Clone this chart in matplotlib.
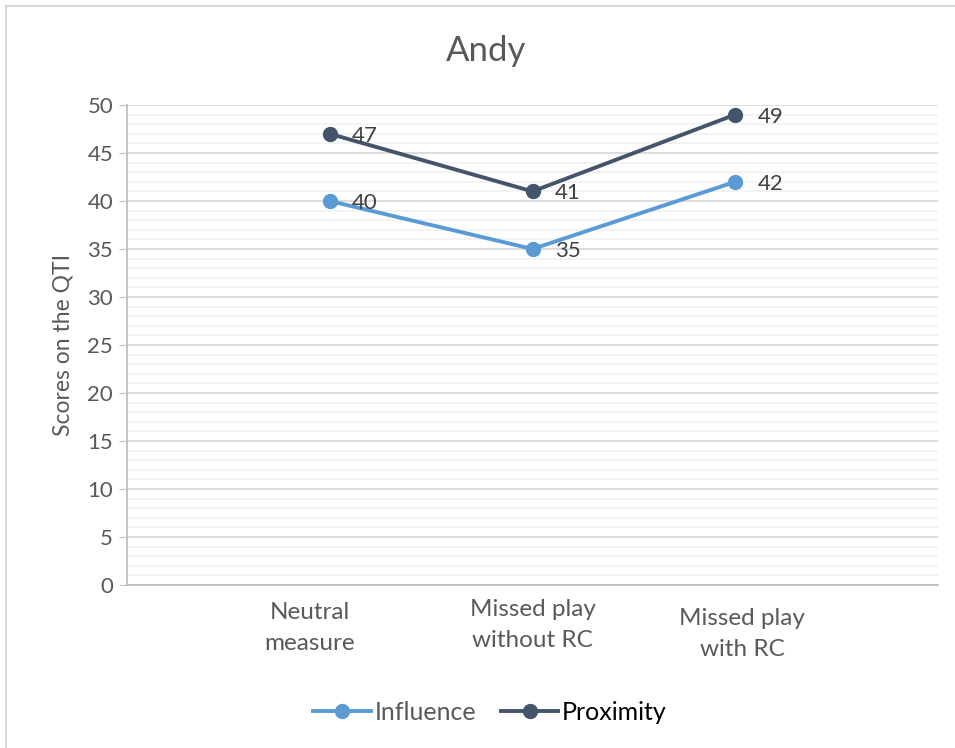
import matplotlib
matplotlib.use("Agg")
from matplotlib import pyplot as plt
from matplotlib.patches import Rectangle
import matplotlib.transforms as mtransforms
import numpy as np

plt.rcParams['font.family'] = ['Lato', 'DejaVu Sans']

categories = ['Neutral\nmeasure', 'Missed play\nwithout RC', 'Missed play\nwith RC']
influence = [40, 35, 42]
proximity = [47, 41, 49]

blue = '#5B9BD5'
navy = '#44546A'
grey_txt = '#595959'

fig = plt.figure(figsize=(9.55, 7.48), dpi=100)
ax = fig.add_axes([127 / 955, 1 - 585 / 748, (938 - 127) / 955, (585 - 105) / 748])

# outer chart border (only top and left visible in the crop)
fig.patches.append(Rectangle((6 / 955, -0.1), 1.2, 1 - 6 / 748 + 0.1,
                             transform=fig.transFigure, fill=False,
                             edgecolor='#D9D9D9', linewidth=1.5))

x = np.arange(1, len(categories) + 1)
ax.plot(x, influence, color=blue, linewidth=2.8, marker='o', markersize=10,
        label='Influence', zorder=3)
ax.plot(x, proximity, color=navy, linewidth=2.8, marker='o', markersize=10,
        label='Proximity', zorder=3)

for xi, v in zip(x, influence):
    ax.annotate(str(v), (xi, v), xytext=(16, 0), textcoords='offset points',
                va='center_baseline', ha='left', fontsize=16, color='#404040')
for xi, v in zip(x, proximity):
    ax.annotate(str(v), (xi, v), xytext=(16, 0), textcoords='offset points',
                va='center_baseline', ha='left', fontsize=16, color='#404040')

ax.set_xlim(0, 4)
ax.set_ylim(0, 50)
ax.set_yticks(np.arange(0, 51, 5))
ax.set_yticks(np.arange(0, 51, 1), minor=True)
ax.grid(which='major', axis='y', color='#D9D9D9', linewidth=1.3)
ax.grid(which='minor', axis='y', color='#F2F2F2', linewidth=1.3)
ax.set_axisbelow(True)

ax.set_xticks(x)
ax.set_xticklabels(categories, fontsize=17.5, color=grey_txt, linespacing=1.6)
ax.tick_params(axis='x', length=0, pad=12)
ax.tick_params(axis='y', which='major', length=6, color='#BFBFBF',
               labelsize=16, labelcolor=grey_txt, pad=4)
ax.tick_params(axis='y', which='minor', length=0)

# Excel places the category labels a bit off the points
shifts = [(-20, 0), (0, 3), (7, -6)]
for lab, (dx, dy) in zip(ax.get_xticklabels(), shifts):
    lab.set_transform(lab.get_transform() +
                      mtransforms.ScaledTranslation(dx / 100, dy / 100, fig.dpi_scale_trans))

for s in ['top', 'right']:
    ax.spines[s].set_visible(False)
ax.spines['left'].set_color('#BFBFBF')
ax.spines['bottom'].set_color('#BFBFBF')
ax.spines['left'].set_linewidth(1.3)
ax.spines['bottom'].set_linewidth(1.3)

ax.set_ylabel('Scores on the QTI', fontsize=16.5, color=grey_txt, labelpad=10)
fig.text(486 / 955, 1 - 51 / 748, 'Andy', ha='center', va='center',
         fontsize=25, color=grey_txt)

leg = fig.legend(loc='center', bbox_to_anchor=(490 / 955, 1 - 712 / 748),
                 ncol=2, frameon=False, fontsize=18, handlelength=2.3,
                 columnspacing=1.0, handletextpad=0.15)
leg.get_texts()[0].set_color(grey_txt)
leg.get_texts()[1].set_color('#000000')

fig.savefig('out.png', dpi=100)
